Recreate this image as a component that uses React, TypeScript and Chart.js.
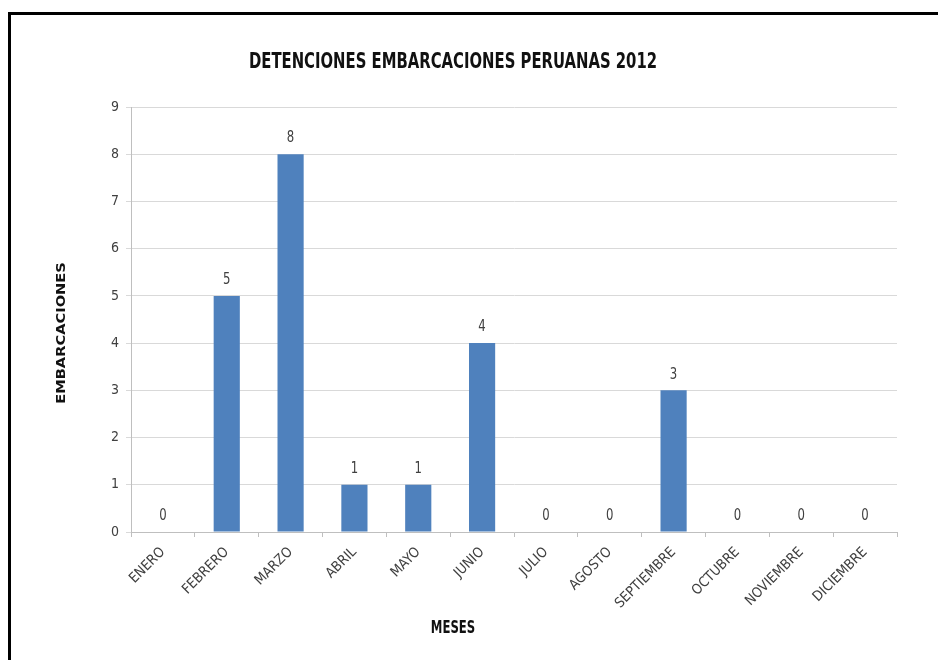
import React, { useEffect, useRef } from "react";
import { Chart, registerables } from "chart.js";

Chart.register(...registerables);

const chartTitle = "DETENCIONES EMBARCACIONES PERUANAS 2012";
const xAxisTitle = "MESES";
const yAxisTitle = "EMBARCACIONES";
const months = [
  "ENERO",
  "FEBRERO",
  "MARZO",
  "ABRIL",
  "MAYO",
  "JUNIO",
  "JULIO",
  "AGOSTO",
  "SEPTIEMBRE",
  "OCTUBRE",
  "NOVIEMBRE",
  "DICIEMBRE",
];
const detentions = [0, 5, 8, 1, 1, 4, 0, 0, 3, 0, 0, 0];
const yMin = 0;
const yMax = 9;
const yStep = 1;

const FONT = "'Liberation Sans Narrow', 'DejaVu Sans Condensed', 'Liberation Sans', sans-serif";
const STRETCH = 1.3;

const titlesPlugin = {
  id: "customTitles",
  afterDraw(chart: any) {
    const ctx = chart.ctx;
    ctx.save();
    ctx.fillStyle = "#111111";
    ctx.textAlign = "center";
    ctx.textBaseline = "middle";

    ctx.save();
    ctx.translate(453, 62);
    ctx.scale(1, STRETCH);
    ctx.font = `bold 16.5px ${FONT}`;
    ctx.fillText(chartTitle, 0, 0);
    ctx.restore();

    ctx.save();
    ctx.translate(453, 629);
    ctx.scale(1, STRETCH);
    ctx.font = `bold 13px ${FONT}`;
    ctx.fillText(xAxisTitle, 0, 0);
    ctx.restore();

    ctx.save();
    ctx.translate(62, 333);
    ctx.rotate(-Math.PI / 2);
    ctx.scale(STRETCH, 1);
    ctx.font = `bold 12.5px ${FONT}`;
    ctx.fillText(yAxisTitle, 0, 0);
    ctx.restore();

    ctx.restore();
  },
};

const dataLabelsPlugin = {
  id: "barValueLabels",
  afterDatasetsDraw(chart: any) {
    const ctx = chart.ctx;
    const meta = chart.getDatasetMeta(0);
    const data = chart.data.datasets[0].data as number[];
    ctx.save();
    ctx.fillStyle = "#404040";
    ctx.font = `13px ${FONT}`;
    ctx.textAlign = "center";
    ctx.textBaseline = "middle";
    meta.data.forEach((bar: any, i: number) => {
      ctx.save();
      ctx.translate(bar.x, bar.y - 16);
      ctx.scale(1, 1.25);
      ctx.fillText(String(data[i]), 0, 0);
      ctx.restore();
    });
    ctx.restore();
  },
};

export default function App() {
  const canvasRef = useRef<HTMLCanvasElement | null>(null);

  useEffect(() => {
    if (!canvasRef.current) return;
    const chart = new Chart(canvasRef.current, {
      type: "bar",
      data: {
        labels: months,
        datasets: [
          {
            data: detentions,
            backgroundColor: "#4f81bd",
            borderWidth: 0,
            barPercentage: 0.41,
            categoryPercentage: 1,
          },
        ],
      },
      options: {
        responsive: false,
        animation: false,
        devicePixelRatio: 1,
        layout: { padding: { top: 107, right: 41, left: 0, bottom: 0 } },
        plugins: {
          legend: { display: false },
          title: { display: false },
          tooltip: { enabled: false },
        },
        scales: {
          x: {
            offset: true,
            grid: {
              display: true,
              drawOnChartArea: false,
              drawTicks: true,
              tickLength: 5,
              color: "#bfbfbf",
              offset: true,
            },
            border: { display: true, color: "#bfbfbf", width: 1 },
            ticks: {
              minRotation: 45,
              maxRotation: 45,
              autoSkip: false,
              padding: 7,
              color: "#404040",
              font: { family: FONT, size: 14 },
            },
            afterFit: (scale: any) => {
              scale.height = 128;
            },
          },
          y: {
            min: yMin,
            max: yMax,
            grid: {
              color: "#d9d9d9",
              tickLength: 5,
              drawTicks: true,
            },
            border: { display: true, color: "#bfbfbf", width: 1 },
            ticks: {
              stepSize: yStep,
              padding: 7,
              color: "#404040",
              font: { family: FONT, size: 14 },
            },
            afterFit: (scale: any) => {
              scale.width = 131;
            },
          },
        },
      },
      plugins: [dataLabelsPlugin, titlesPlugin],
    });
    return () => chart.destroy();
  }, []);

  return (
    <div
      style={{
        position: "fixed",
        left: 0,
        top: 0,
        width: 938,
        height: 660,
        overflow: "hidden",
        background: "#ffffff",
      }}
    >
      <div
        style={{
          position: "absolute",
          left: 8,
          top: 12,
          width: 1000,
          height: 700,
          borderLeft: "3px solid #000",
          borderTop: "3px solid #000",
        }}
      />
      <canvas
        ref={canvasRef}
        width={938}
        height={660}
        style={{ position: "absolute", left: 0, top: 0, width: 938, height: 660 }}
      />
    </div>
  );
}
